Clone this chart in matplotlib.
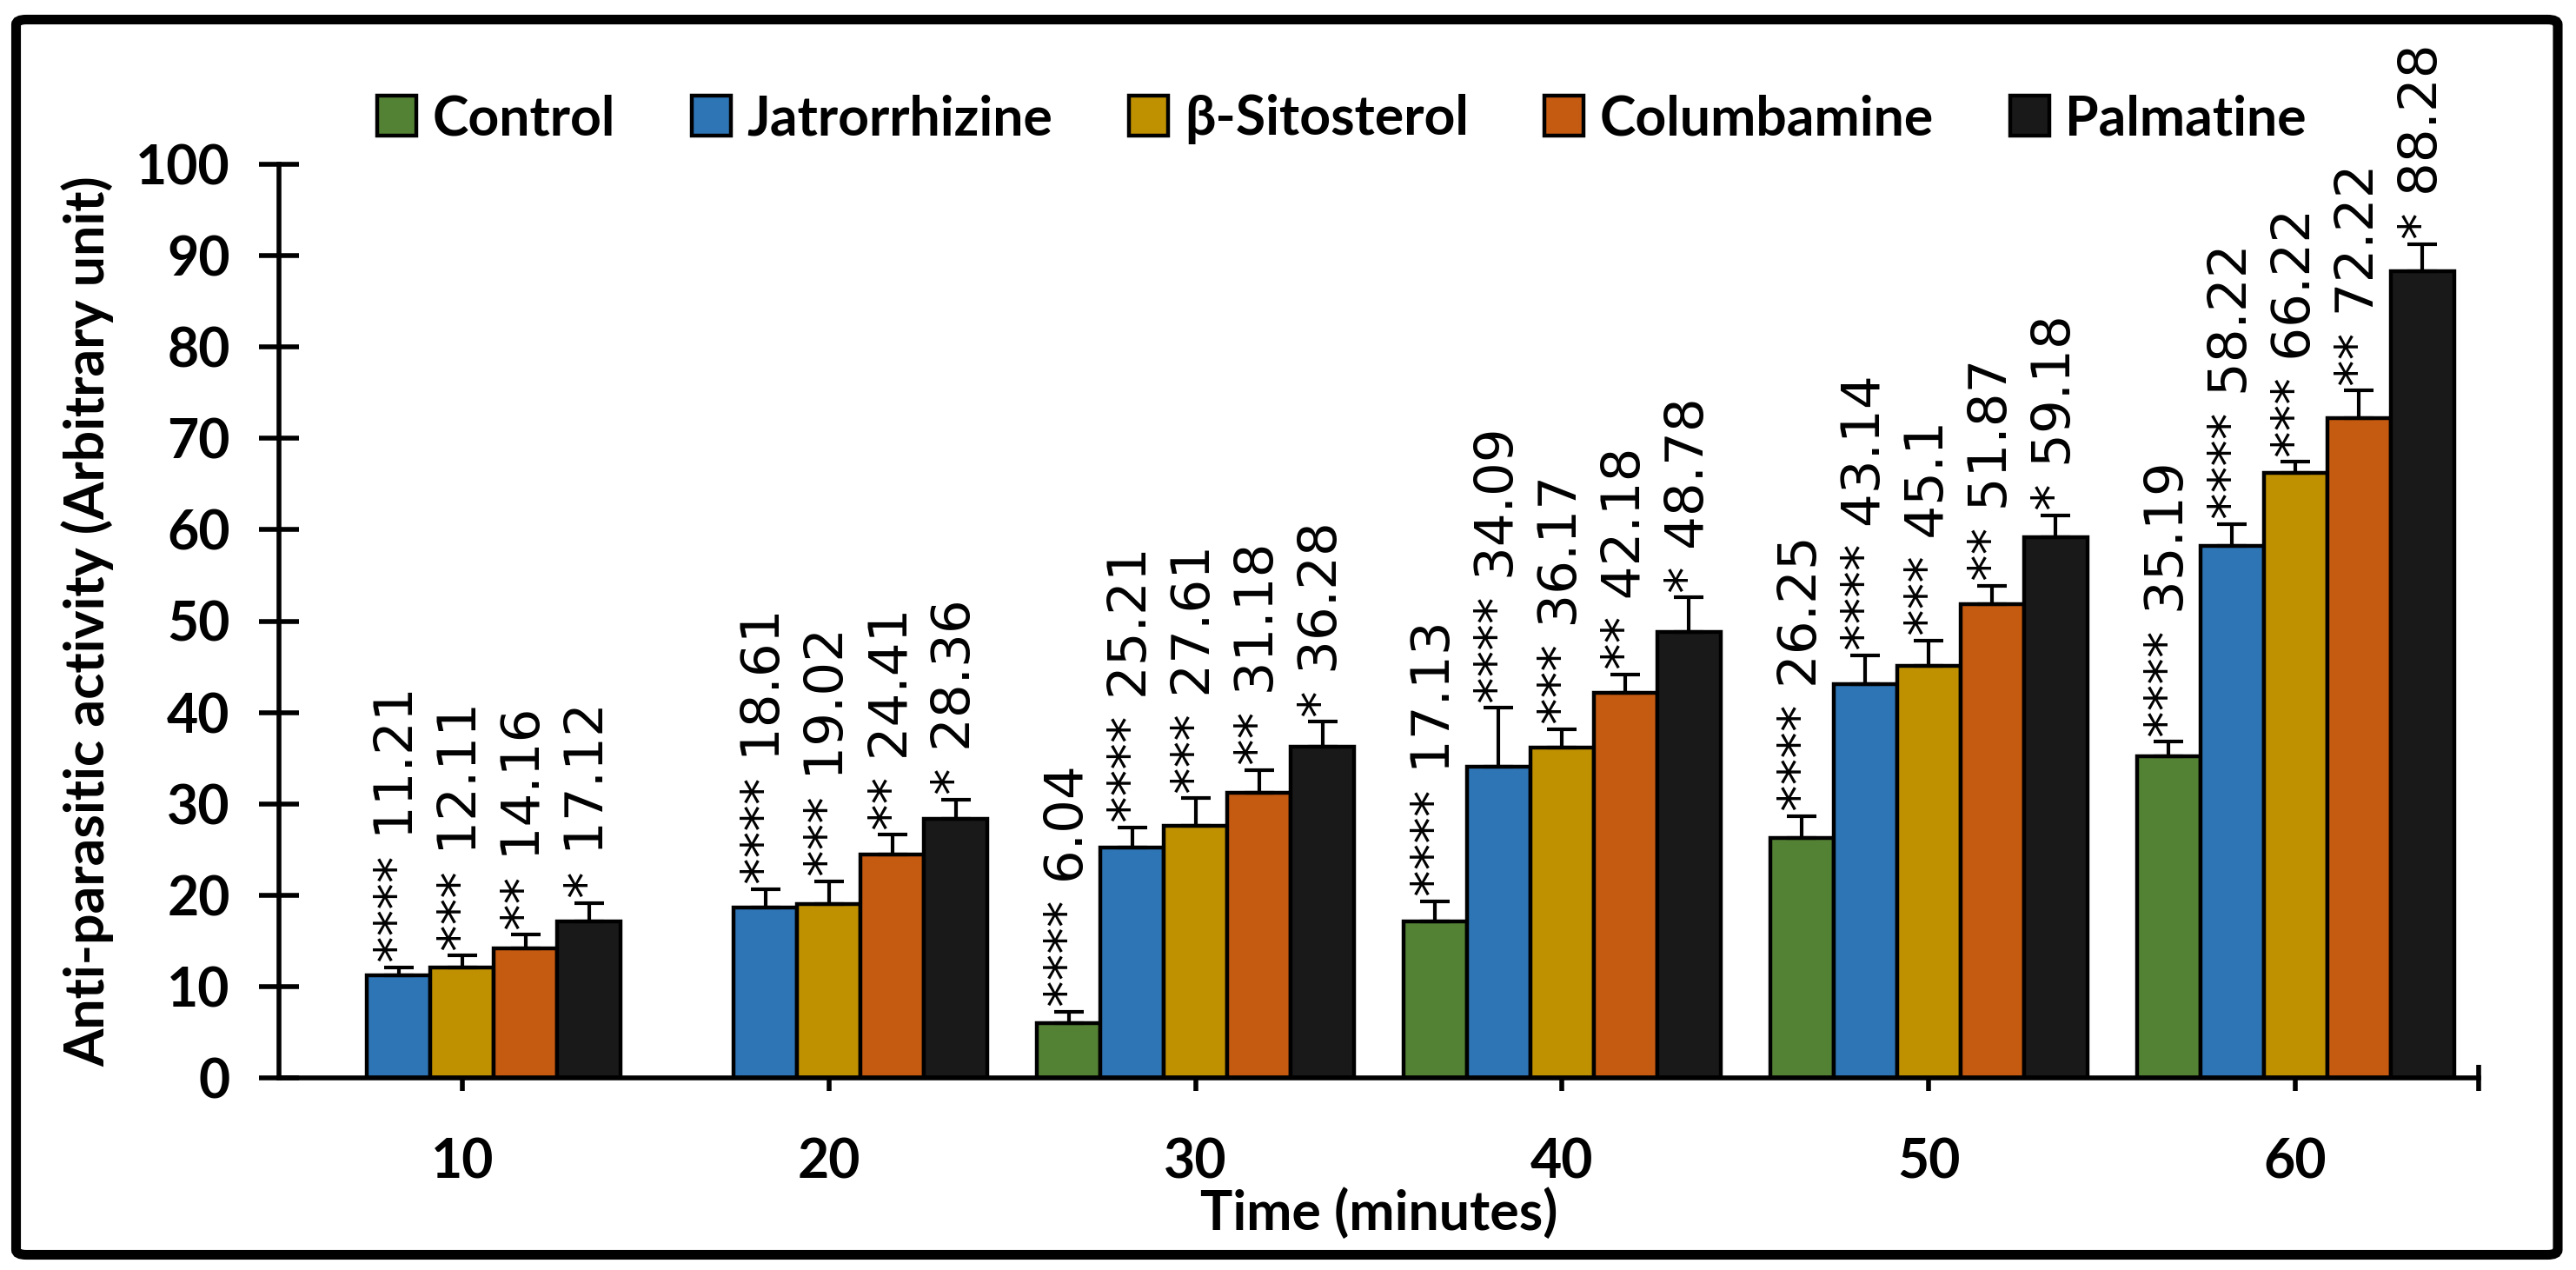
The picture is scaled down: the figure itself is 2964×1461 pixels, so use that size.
import numpy as np
import matplotlib
matplotlib.use("Agg")
import matplotlib.pyplot as plt
from matplotlib.patches import FancyBboxPatch

# data
times = ["10", "20", "30", "40", "50", "60"]
series = ["Control", "Jatrorrhizine", "β-Sitosterol", "Columbamine", "Palmatine"]
control = [np.nan, np.nan, 6.04, 17.13, 26.25, 35.19]
jatrorrhizine = [11.21, 18.61, 25.21, 34.09, 43.14, 58.22]
sitosterol = [12.11, 19.02, 27.61, 36.17, 45.1, 66.22]
columbamine = [14.16, 24.41, 31.18, 42.18, 51.87, 72.22]
palmatine = [17.12, 28.36, 36.28, 48.78, 59.18, 88.28]
# error bars
err_control = [np.nan, np.nan, 1.2, 2.2, 2.4, 1.6]
err_jatrorrhizine = [0.9, 2.05, 2.2, 6.4, 3.1, 2.4]
err_sitosterol = [1.3, 2.5, 3.0, 2.0, 2.8, 1.2]
err_columbamine = [1.5, 2.2, 2.5, 2.0, 2.0, 3.0]
err_palmatine = [2.0, 2.1, 2.7, 3.8, 2.4, 3.0]
stars = ["****", "****", "***", "**", "*"]

values = [control, jatrorrhizine, sitosterol, columbamine, palmatine]
errors = [err_control, err_jatrorrhizine, err_sitosterol, err_columbamine, err_palmatine]
colors = ["#548235", "#2E75B6", "#BF9000", "#C55A11", "#191919"]

W, H, DPI = 2964, 1461, 200
fig = plt.figure(figsize=(W / DPI, H / DPI), dpi=DPI)
ax = fig.add_axes([321 / W, 1 - 1240 / H, (2852 - 321) / W, (1240 - 189) / H])

lab_font = dict(family="Lato", weight="bold", size=22.5)

x = np.arange(len(times))
bw = 0.173
for i, name in enumerate(series):
    pos = x + (i - 2) * bw
    v = np.array(values[i], dtype=float)
    e = np.array(errors[i], dtype=float)
    ax.bar(pos, v, bw, color=colors[i], edgecolor="black", linewidth=1.6,
           label=name, zorder=2)
    ok = ~np.isnan(v)
    ax.errorbar(pos[ok], v[ok], yerr=[np.zeros(ok.sum()), e[ok]], fmt="none",
                ecolor="black", elinewidth=1.5, capsize=6, capthick=1.5, zorder=3)
    for p, val, er in zip(pos[ok], v[ok], e[ok]):
        ax.annotate(f"{stars[i]} {val:g}", (p, val + er), xytext=(0, 2),
                    textcoords="offset points", rotation=90, ha="center",
                    va="bottom", fontsize=22, family="DejaVu Sans", zorder=4)

ax.set_xlim(-0.5, len(times) - 0.5)
ax.set_ylim(0, 100)
ax.set_yticks(np.arange(0, 101, 10))
ax.set_xticks(x)
ax.set_xticklabels(times)
ax.set_xticks([len(times) - 0.5], minor=True)
for s in ["top", "right"]:
    ax.spines[s].set_visible(False)
for s in ["left", "bottom"]:
    ax.spines[s].set_linewidth(2.0)
ax.tick_params(axis="y", direction="inout", length=16.5, width=2.0, pad=12)
ax.tick_params(axis="x", direction="inout", length=11, width=2.0, pad=19)
ax.tick_params(axis="x", which="minor", direction="inout", length=11, width=2.0)
for t in ax.get_xticklabels() + ax.get_yticklabels():
    t.set_fontfamily("Lato")
    t.set_fontweight("bold")
    t.set_fontsize(22.5)

ax.set_xlabel("Time (minutes)", **lab_font)
ax.xaxis.label.set_va("baseline")
ax.xaxis.set_label_coords(0.5, -(1415 - 1240) / 1051)
ax.set_ylabel("Anti-parasitic activity (Arbitrary unit)", **lab_font)
ax.yaxis.label.set_va("baseline")
ax.yaxis.set_label_coords(-(321 - 120) / 2531, 0.5)

fig.legend(loc="center", bbox_to_anchor=(0.521, 1 - 137 / H), ncol=5,
           frameon=False, prop=lab_font, handlelength=0.72, handleheight=0.75,
           handletextpad=0.3, columnspacing=1.4)

# outer frame
frame = FancyBboxPatch((18.5 / W, 1 - 1443.5 / H), (2943 - 18.5) / W, (1443.5 - 22.5) / H,
                       boxstyle="round,pad=0,rounding_size=0.004", transform=fig.transFigure,
                       fill=False, edgecolor="black", linewidth=4)
fig.patches.append(frame)

fig.savefig("out.png", dpi=DPI)
